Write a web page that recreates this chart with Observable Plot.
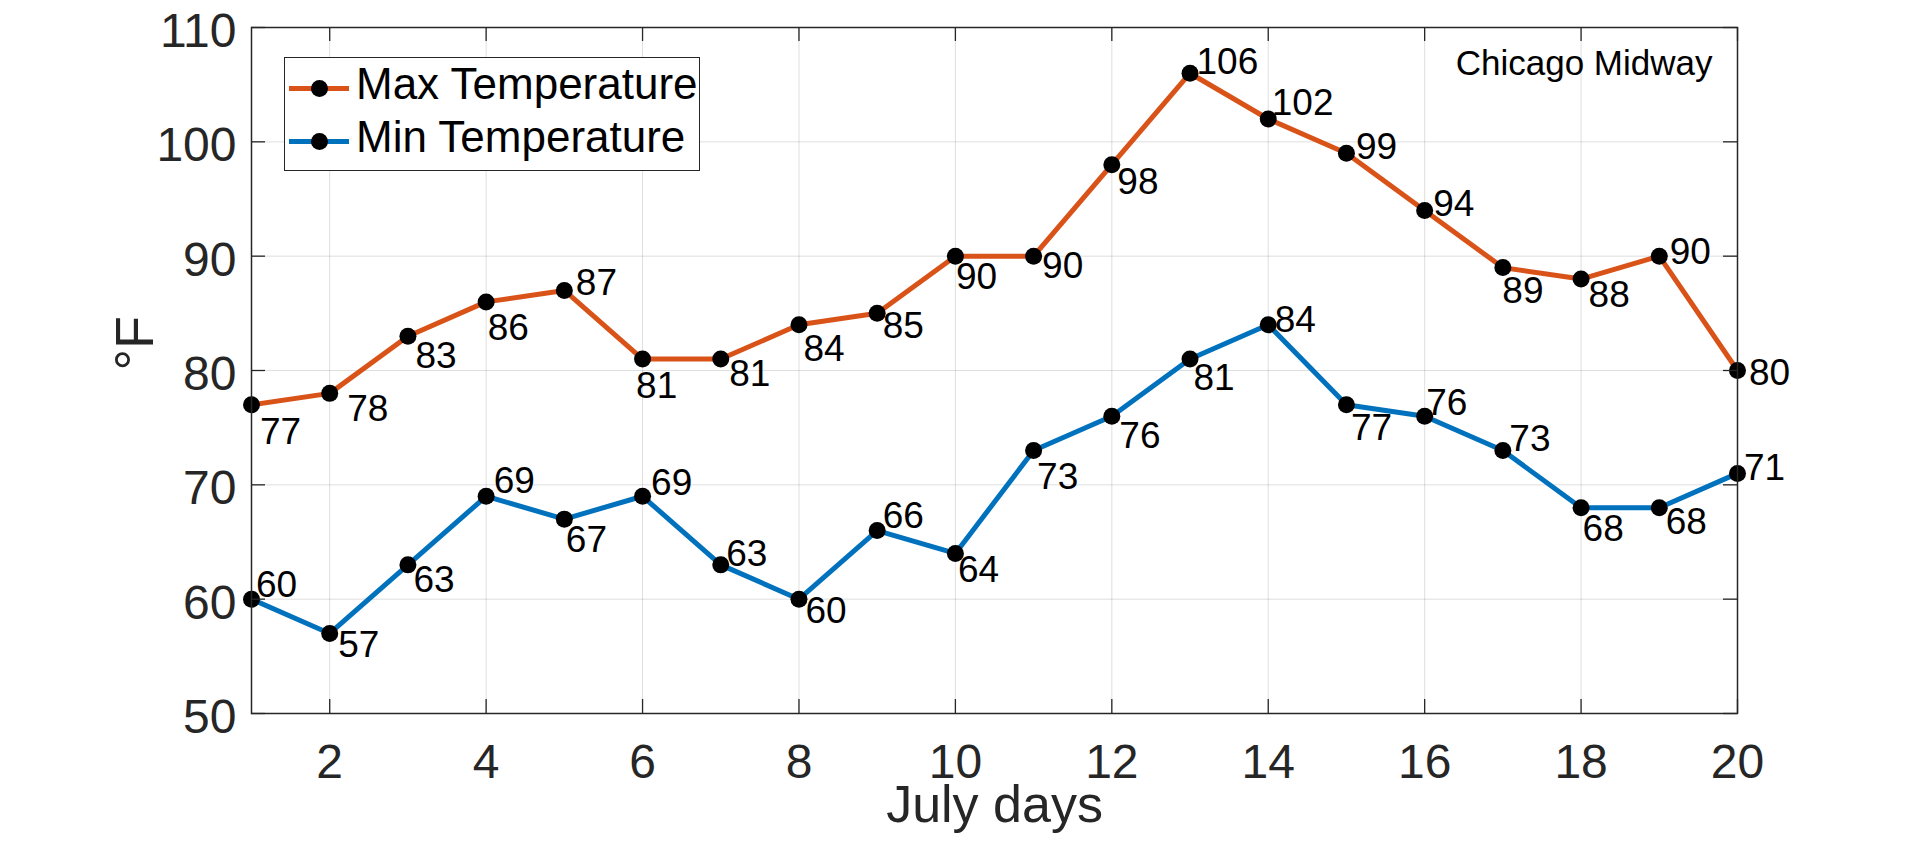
<!DOCTYPE html>
<html>
<head>
<meta charset="utf-8">
<script src="https://cdn.jsdelivr.net/npm/d3@7"></script>
<script src="https://cdn.jsdelivr.net/npm/@observablehq/plot@0.6"></script>
<style>
  html, body { margin: 0; padding: 0; background: #fff; }
  #wrap { position: relative; width: 1920px; height: 844px; font-family: "Liberation Sans", Arial, Helvetica, sans-serif; }
  #wrap svg { display: block; }
  .legend { position: absolute; left: 284px; top: 57px; width: 416px; height: 114px; box-sizing: border-box;
            border: 1.5px solid #262626; background: #fff; }
  .legend .row { position: absolute; left: 0; width: 100%; height: 0; }
  .legend .swatch { position: absolute; left: 4px; width: 60px; height: 5px; top: -2.5px; }
  .legend .dot { position: absolute; left: 26px; width: 17px; height: 17px; top: -8.5px; border-radius: 50%; background: #000; }
  .legend .lab { position: absolute; left: 71px; font-size: 44px; line-height: 44px; top: -26px; color: #000; white-space: nowrap; }
</style>
</head>
<body>
<div id="wrap"></div>
<script>
// ---- data ----
const days = [1, 2, 3, 4, 5, 6, 7, 8, 9, 10, 11, 12, 13, 14, 15, 16, 17, 18, 19, 20];
const maxTemp = [77, 78, 83, 86, 87, 81, 81, 84, 85, 90, 90, 98, 106, 102, 99, 94, 89, 88, 90, 80];
const minTemp = [60, 57, 63, 69, 67, 69, 63, 60, 66, 64, 73, 76, 81, 84, 77, 76, 73, 68, 68, 71];
const xTicks = [2, 4, 6, 8, 10, 12, 14, 16, 18, 20];
const yTicks = [50, 60, 70, 80, 90, 100, 110];
const seriesNames = ["Max Temperature", "Min Temperature"];
const stationName = "Chicago Midway";
const xLabel = "July days";
const yLabel = "°F";

// label nudges (pixel offset of each value label from its point: [dx, baseline dy])
const maxLabelNudge = [[10,39],[19,28],[9,32],[3,38],[13,5],[-5,39],[10,27],[6,36],[7,25],[2,33],
                       [10,22],[7,29],[8,1],[5,-4],[11,6],[10,6],[1,35],[9,28],[12,8],[13,14]];
const minLabelNudge = [[6,-2],[10,24],[7,27],[9,-3],[3,33],[10,-1],[7,1],[8,24],[7,-3],[4,29],
                       [5,38],[9,32],[5,31],[8,7],[6,35],[3,-1],[8,0],[3,33],[8,26],[8,7]];

const colors = { max: "#D95319", min: "#0072BD", axis: "#262626" };
const FONT = '"Liberation Sans", Arial, Helvetica, sans-serif';

const maxRows = days.map((d, i) => ({ day: d, temp: maxTemp[i] }));
const minRows = days.map((d, i) => ({ day: d, temp: minTemp[i] }));

const W = 1920, H = 844;
const mL = 251, mR = 183, mT = 27, mB = 131;
const innerW = W - mL - mR, innerH = H - mT - mB;
const tickLen = 14;
const labelFS = 37;

function labelMarks(rows, nudges) {
  return rows.map((r, i) => Plot.text([r], {
    x: "day", y: "temp", text: d => String(d.temp),
    textAnchor: "start", lineAnchor: "middle",
    dx: nudges[i][0] - 1.5, dy: nudges[i][1] - 0.32 * labelFS,
    fontSize: labelFS, fill: "#000"
  }));
}

const chart = Plot.plot({
  width: W, height: H,
  marginLeft: mL, marginRight: mR, marginTop: mT, marginBottom: mB,
  style: { fontFamily: FONT, background: "#fff", overflow: "visible" },
  x: { domain: [1, 20], axis: null },
  y: { domain: [50, 110], axis: null },
  marks: [
    Plot.gridX(xTicks, { stroke: colors.axis, strokeOpacity: 0.15, strokeWidth: 1 }),
    Plot.gridY(yTicks, { stroke: colors.axis, strokeOpacity: 0.15, strokeWidth: 1 }),
    Plot.line(maxRows, { x: "day", y: "temp", stroke: colors.max, strokeWidth: 5 }),
    Plot.line(minRows, { x: "day", y: "temp", stroke: colors.min, strokeWidth: 5 }),
    Plot.dot(maxRows, { x: "day", y: "temp", r: 8.5, fill: "#000", stroke: null }),
    Plot.dot(minRows, { x: "day", y: "temp", r: 8.5, fill: "#000", stroke: null }),
    ...labelMarks(maxRows, maxLabelNudge),
    ...labelMarks(minRows, minLabelNudge),
    // inward tick marks on all four sides
    Plot.ruleX(xTicks, { x: d => d, insetTop: innerH - tickLen, stroke: colors.axis, strokeWidth: 1.3 }),
    Plot.ruleX(xTicks, { x: d => d, insetBottom: innerH - tickLen, stroke: colors.axis, strokeWidth: 1.3 }),
    Plot.ruleY(yTicks, { y: d => d, insetRight: innerW - tickLen, stroke: colors.axis, strokeWidth: 1.3 }),
    Plot.ruleY(yTicks, { y: d => d, insetLeft: innerW - tickLen, stroke: colors.axis, strokeWidth: 1.3 }),
    Plot.frame({ stroke: colors.axis, strokeWidth: 1.5 }),
    Plot.axisX(xTicks, { anchor: "bottom", tickSize: 0, tickPadding: 30, fontSize: 48, color: colors.axis, label: null }),
    Plot.axisY(yTicks, { anchor: "left", tickSize: 0, tickPadding: 15, dy: 4, fontSize: 48, color: colors.axis, label: null }),
    Plot.text([xLabel], { frameAnchor: "bottom", lineAnchor: "middle", dy: 821 - (H - mB) - 0.32 * 52, fontSize: 52, fill: colors.axis }),
    Plot.text([yLabel], { frameAnchor: "left", lineAnchor: "middle", rotate: -90, dx: 152 - mL - 0.32 * 54, fontSize: 54, fill: colors.axis }),
    Plot.text([stationName], { frameAnchor: "top-right", lineAnchor: "middle", textAnchor: "end", dx: -25, dy: 74 - mT - 0.32 * 35, fontSize: 35, fill: "#000" })
  ]
});

const wrap = document.getElementById("wrap");
wrap.appendChild(chart);

// legend (inside the axes, upper-left)
const legend = document.createElement("div");
legend.className = "legend";
const rowCenters = [30, 83];
seriesNames.forEach((name, i) => {
  const row = document.createElement("div");
  row.className = "row";
  row.style.top = rowCenters[i] + "px";
  const sw = document.createElement("div");
  sw.className = "swatch";
  sw.style.background = i === 0 ? colors.max : colors.min;
  const dot = document.createElement("div");
  dot.className = "dot";
  const lab = document.createElement("div");
  lab.className = "lab";
  lab.textContent = name;
  row.appendChild(sw); row.appendChild(dot); row.appendChild(lab);
  legend.appendChild(row);
});
wrap.appendChild(legend);
</script>
</body>
</html>
